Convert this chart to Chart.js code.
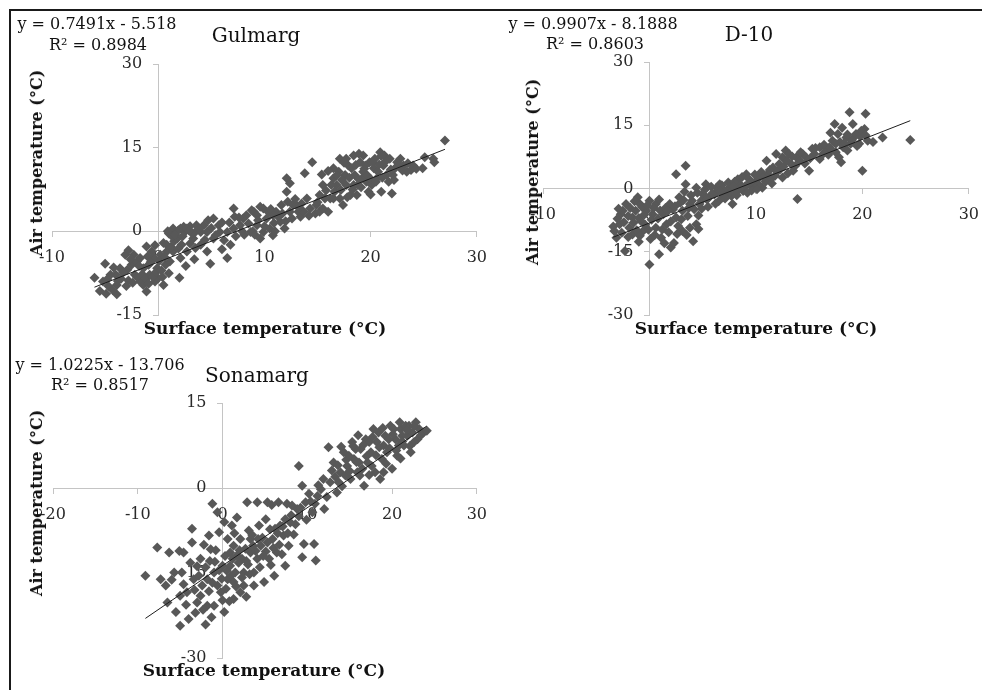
<!DOCTYPE html>
<html>
<head>
<meta charset="utf-8">
<script src="https://cdn.jsdelivr.net/npm/chart.js@4.4.1/dist/chart.umd.min.js"></script>
<style>
  html, body { margin: 0; padding: 0; background: #fff; }
  #page { position: relative; width: 982px; height: 690px; overflow: hidden; font-family: "DejaVu Serif", serif; }
  #frame { position: absolute; left: 9px; top: 9px; width: 1000px; height: 700px;
           border-left: 2px solid #1a1a1a; border-top: 2px solid #1a1a1a; }
  canvas { position: absolute; }
  .lbl { position: absolute; white-space: nowrap; transform: translate(-50%, -50%); color: #111; line-height: 1; }
  .eq { font-size: 16px; }
  .ttl { font-size: 20px; }
  .ax { font-size: 17px; font-weight: bold; }
  .rot { font-size: 16px; transform: translate(-50%, -50%) rotate(-90deg); }
</style>
</head>
<body>
<div id="page"><div id="frame"></div></div>
<script>
const stations = ['Gulmarg', 'D-10', 'Sonamarg'];
const slopes = [0.7491, 0.9907, 1.0225];
const intercepts = [-5.518, -8.1888, -13.706];
const rSquared = ['0.8984', '0.8603', '0.8517'];
const xRanges = [[-10, 30], [-10, 30], [-20, 30]];
const yRanges = [[-15, 30], [-30, 30], [-30, 15]];
const xStep = 10;
const yStep = 15;

// [surface temp, air temp]
const gulmargPoints = [
    [-6.0, -8.3], [-5.5, -10.7], [-4.9, -11.2], [-3.9, -11.3], [-5.0, -5.8], [-4.5, -7.8], [-4.0, -7.8],
    [-3.6, -6.6], [-3.1, -4.2], [-2.9, -6.9], [-2.5, -6.0], [-2.2, -7.8], [-2.0, -5.4], [-1.7, -9.0],
    [-1.4, -9.6], [-1.1, -2.7], [-0.9, -6.0], [-0.8, -7.8], [-0.4, -4.8], [-0.3, -9.0], [-0.1, -6.6],
    [0.2, -4.2], [0.5, -2.1], [0.7, -6.0], [0.8, -3.6], [1.1, -5.4], [2.0, -8.3], [-3.9, -9.6],
    [-2.3, -4.2], [-1.7, -4.8], [-1.4, -6.6], [-0.6, -3.6], [0.0, -8.4], [-1.1, -10.8], [0.5, -9.6],
    [1.4, -3.6], [0.8, -2.4],
    [-5.2, -9.0], [-4.7, -9.8], [-4.3, -10.5], [-4.2, -6.5], [-3.5, -8.5], [-3.3, -7.4], [-2.8, -8.8],
    [-2.6, -5.0], [-2.0, -8.2], [-1.8, -6.2], [-1.5, -7.7], [-1.2, -8.6], [-1.0, -4.5], [-0.7, -5.5],
    [-0.5, -8.2], [-0.2, -7.3], [0.1, -5.3], [0.3, -7.0], [0.6, -4.6], [1.0, -7.5], [1.2, -2.8],
    [1.5, -1.8], [-2.8, -3.4], [-0.3, -2.5],
    [-4.8, -8.6], [-3.8, -8.9], [-3.0, -9.8], [-2.4, -9.2], [-0.9, -9.4], [0.4, -8.2],
    [1.0, -0.4], [1.4, 0.5], [2.1, 0.5], [2.5, -0.1], [1.8, -1.3], [2.2, -2.4], [2.7, -3.6], [2.1, -4.8],
    [3.3, -1.3], [4.0, -0.1], [4.3, 1.1], [4.7, 2.0], [5.2, 2.3], [5.7, 1.1], [4.0, -2.4], [4.6, -3.6],
    [4.9, -5.8], [6.5, -4.8], [6.8, -2.4], [7.1, 4.1], [6.5, -0.1], [7.7, 1.1], [8.3, 2.9], [9.0, 3.5],
    [9.3, 1.1], [9.9, -0.1], [10.2, 2.3], [10.5, 0.5], [10.8, -0.7], [9.6, -1.3], [8.7, -0.1], [11.1, 3.5],
    [11.6, 4.7], [11.9, 0.5], [12.1, 9.5], [12.4, 8.6], [12.1, 7.1], [12.7, 4.7], [13.2, 3.5], [13.5, 5.0],
    [14.0, 5.9], [14.5, 12.4], [13.8, 10.4], [13.4, 2.6],
    [0.9, 0.0], [1.3, -0.9], [1.9, 0.2], [2.4, 0.8], [3.0, 0.9], [3.4, -0.3],
    [2.7, 0.5], [3.2, -0.4], [3.6, 1.1], [4.6, -0.1], [5.2, -1.3], [5.8, -0.1], [7.1, 0.5], [8.0, 2.3],
    [9.3, 2.9], [9.9, 4.1], [10.8, 2.9], [11.5, 1.7], [12.4, 3.5], [13.0, 4.7], [13.7, 3.5], [14.3, 4.1],
    [1.6, -0.6], [2.3, -0.9], [2.9, 0.2], [3.0, -2.2], [3.5, -3.0], [3.8, 0.4], [4.4, -1.5], [5.0, 0.6],
    [5.4, -0.7], [6.0, 1.6], [6.2, -1.6], [6.0, -3.2], [3.4, -5.0], [1.9, -3.1], [2.6, -6.2],
    [7.3, -0.9], [7.6, 2.5], [8.1, -0.6], [8.5, 1.4], [8.9, 0.0], [9.4, 2.0], [9.6, 4.4], [10.0, 0.9],
    [10.4, 3.4], [10.9, 1.5], [11.3, 2.6], [11.7, 3.2], [12.0, 1.8], [12.6, 2.3], [12.9, 5.8], [13.3, 4.2],
    [14.2, 2.8], [12.2, 5.3],
    [6.7, 1.6], [7.2, 2.6], [7.9, 0.0], [8.8, 3.8], [9.1, -0.6], [10.6, 4.0], [11.0, 0.0], [14.8, 3.2],
    [14.9, 4.7], [15.2, 6.5], [15.5, 8.3], [16.0, 3.5], [16.2, 5.9], [16.5, 9.5], [16.6, 7.1], [17.0, 10.7],
    [17.1, 13.0], [17.4, 4.7], [17.7, 8.3], [17.9, 11.8], [18.1, 6.5], [18.4, 13.6], [18.5, 10.1],
    [18.8, 8.3], [19.0, 12.4], [19.3, 10.7], [19.6, 8.9], [19.8, 7.1], [19.9, 12.4], [20.3, 11.3],
    [20.6, 9.5], [20.9, 14.2], [21.0, 7.1], [21.2, 11.8], [21.5, 10.1], [21.8, 13.0], [22.0, 6.8],
    [22.3, 11.3], [22.8, 13.0], [23.1, 11.8], [23.4, 10.7], [24.0, 11.8], [24.9, 11.3], [25.1, 13.3],
    [25.9, 13.0], [26.0, 12.4], [27.0, 16.3],
    [16.5, 5.9], [16.8, 8.3], [17.1, 5.9], [17.6, 10.1], [18.2, 11.3], [18.7, 6.5], [19.2, 9.5],
    [19.5, 11.8], [20.1, 8.3], [20.4, 13.0], [20.7, 10.7], [21.3, 13.6], [21.7, 8.9], [22.1, 10.1],
    [22.6, 11.8], [15.2, 3.5], [15.7, 5.9], [17.7, 13.0], [16.5, 11.3], [18.4, 8.3], [19.3, 13.6],
    [15.0, 5.2], [15.5, 4.1], [15.8, 7.3], [16.3, 8.3], [16.8, 10.0], [17.2, 7.4], [17.3, 9.2], [17.8, 6.1],
    [18.0, 9.6], [18.3, 7.5], [18.6, 11.9], [18.9, 9.3], [19.1, 7.9], [19.4, 11.2], [19.7, 10.0],
    [20.0, 9.4], [20.2, 12.4], [20.5, 8.9], [20.8, 12.0], [21.1, 9.6], [21.4, 12.5], [21.9, 11.1],
    [22.2, 9.2], [22.5, 12.4], [23.0, 10.9], [23.5, 12.2], [23.8, 11.0], [24.3, 11.2], [16.0, 10.8],
    [15.4, 10.2], [17.5, 12.3], [18.9, 13.9], [20.0, 6.6], [21.0, 13.5]
];

const d10Points = [
    [-3.3, -10.1], [-2.8, -8.5], [-2.7, -6.1], [-2.2, -3.7], [-1.9, -9.3], [-1.6, -10.9], [-1.3, -5.3],
    [-1.1, -2.1], [-0.8, -7.7], [-0.6, -10.1], [-2.3, -14.8], [-3.1, -11.7], [-0.3, -5.3], [0.0, -2.9],
    [0.3, -6.1], [0.6, -9.3], [0.0, -18.0], [0.9, -15.6], [1.1, -11.7], [1.6, -8.5], [2.0, -14.0],
    [2.3, -12.9], [2.5, 3.4], [3.4, 5.4], [3.4, 1.0], [2.8, -2.1], [3.1, -5.3], [3.8, -9.3], [4.1, -12.5],
    [4.4, -8.5], [4.7, -3.7], [5.0, -1.3], [5.3, 1.0], [5.6, -2.1], [6.3, 0.2], [6.9, -2.1], [7.5, 0.2],
    [7.8, -3.7], [8.3, 2.2], [8.8, -0.6], [9.1, 3.4], [9.4, 1.0], [10.0, 1.8], [10.6, 0.2], [11.0, 6.6],
    [11.4, 2.2], [11.9, 8.2], [12.5, 2.6], [12.8, 9.0], [13.3, 5.8], [13.9, -2.5], [13.8, 7.4],
    [14.4, 8.2], [15.0, 4.2], [15.3, 9.4], [16.0, 9.8], [16.6, 9.0], [17.2, 11.3], [17.4, 15.3],
    [17.8, 7.4], [18.0, 6.2], [18.5, 12.1], [18.8, 18.1], [18.9, 10.6], [19.1, 15.3], [19.4, 12.9],
    [19.7, 10.6], [20.0, 4.2], [20.2, 14.1], [20.3, 17.7], [20.5, 11.3], [21.0, 11.0], [21.9, 12.1],
    [24.5, 11.5],
    [4.4, 0.2], [5.3, -2.1], [6.6, 1.0], [7.2, -1.3], [8.1, -0.6], [8.5, 1.0], [9.7, 0.2], [10.3, 2.6],
    [11.1, 3.4], [11.6, 5.0], [12.2, 5.8], [12.5, 7.4], [13.1, 8.2], [13.5, 4.2], [14.1, 6.6], [14.7, 7.4],
    [15.5, 8.2], [16.3, 8.2], [16.9, 9.8], [17.5, 10.6], [17.7, 12.9], [18.2, 9.8], [18.6, 9.0],
    [19.2, 12.1], [19.9, 13.7],
    [-2.5, -5.3], [-1.6, -6.9], [-0.9, -3.7], [0.6, -3.7], [1.3, -6.1], [1.9, -3.7], [2.5, -6.9],
    [3.8, -3.7], [3.1, -10.1],
    [-3.4, -9.0], [-3.0, -7.2], [-2.9, -4.8], [-2.6, -10.5], [-2.4, -8.0], [-2.0, -6.5], [-1.8, -4.6],
    [-1.5, -8.1], [-1.2, -9.9], [-1.0, -7.0], [-0.7, -4.4], [-0.5, -6.2], [-0.4, -8.6], [-0.1, -9.8],
    [0.2, -7.4], [0.4, -4.6], [0.8, -7.1], [1.0, -5.2], [1.2, -9.7], [-2.0, -11.5], [-0.9, -11.2],
    [0.5, -11.0],
    [1.5, -4.6], [2.0, -7.8], [2.2, -5.0], [2.7, -8.9], [3.0, -7.3], [3.2, -2.7], [3.6, -6.5], [3.9, -1.6],
    [4.2, -4.9], [4.6, -6.4], [4.9, -2.8], [5.2, -0.3], [5.5, -4.3], [5.8, 0.4], [6.1, -1.4], [6.5, -3.0],
    [6.8, 0.8], [7.0, -0.5], [7.4, 1.4], [7.7, -1.8], [8.0, 1.6], [8.4, -0.3], [8.7, 2.7], [9.0, 0.6],
    [9.3, 2.4], [9.6, -0.5], [9.9, 3.3], [10.2, 1.0], [10.5, 3.9], [10.9, 1.6], [11.3, 4.4], [11.8, 3.0],
    [12.3, 4.6], [12.9, 6.6], [13.4, 7.6], [13.7, 5.4], [14.2, 8.6], [14.6, 5.9], [15.1, 7.2], [15.6, 9.6],
    [16.0, 7.0], [16.4, 10.4], [16.8, 8.0], [17.1, 9.2], [17.5, 8.6], [17.9, 11.0], [18.3, 10.8],
    [18.6, 12.8], [19.0, 11.4], [19.5, 10.1], [19.8, 12.4], [20.3, 12.6], [18.1, 14.4], [17.0, 13.2],
    [-1.4, -3.0], [-0.2, -4.0], [0.9, -2.6], [1.7, -5.4], [2.4, -4.2], [2.9, -3.4], [3.3, -0.8],
    [3.7, -4.6], [4.0, -2.9], [4.5, -1.0], [4.9, -4.8], [5.4, -2.6], [5.9, -1.2], [6.2, -3.6], [6.6, -0.7],
    [7.1, -2.4], [7.6, -0.9], [7.9, 0.5], [8.2, -1.6], [8.6, 0.3], [9.2, -1.0], [9.5, 1.6], [10.1, -0.2],
    [10.7, 2.6], [11.5, 1.2], [12.0, 4.0], [12.6, 5.2], [13.0, 3.6], [1.8, -10.4], [2.6, -10.8],
    [3.5, -11.0], [-1.0, -12.6], [1.4, -13.0], [4.6, -9.6], [0.1, -12.0]
];

const sonamargPoints = [
    [-9.1, -15.5], [-7.7, -10.5], [-7.3, -16.1], [-6.7, -17.2], [-6.5, -20.2], [-6.3, -11.4], [-5.7, -14.9],
    [-5.5, -21.9], [-5.1, -11.1], [-5.0, -24.3], [-4.8, -14.9], [-4.6, -11.4], [-4.2, -18.4], [-4.0, -23.1],
    [-3.6, -7.2], [-3.6, -9.6], [-3.4, -16.1], [-3.0, -20.2], [-2.6, -12.5], [-2.4, -17.2], [-2.0, -24.1],
    [-1.8, -20.8], [-1.6, -8.4], [-1.4, -10.8], [-1.2, -2.8], [-1.0, -14.9], [-0.6, -4.3], [-0.4, -7.8],
    [-0.2, -18.4], [0.0, -13.7], [0.2, -21.9], [0.6, -16.1], [0.9, -11.4], [1.1, -6.6], [1.3, -19.6],
    [1.5, -14.9], [1.7, -5.2], [2.1, -9.0], [2.3, -12.5], [2.5, -17.2], [2.9, -2.5], [3.1, -7.5],
    [3.3, -11.4], [3.7, -14.9], [4.1, -2.5], [4.3, -6.6], [4.5, -10.2], [4.9, -16.6], [5.1, -5.5],
    [5.3, -2.5], [5.5, -12.5], [5.9, -9.0], [6.1, -15.5], [6.4, -11.4], [6.6, -2.5], [6.8, -6.6],
    [7.2, -8.4], [7.4, -13.7], [7.6, -2.8], [7.8, -10.2], [8.0, -6.1], [8.2, -3.1], [8.8, -3.7],
    [9.0, 3.9], [9.4, 0.4], [9.4, -12.2], [9.6, -9.9], [9.8, -2.5], [10.8, -9.9], [11.0, -12.8],
    [10.6, -4.3], [11.2, -1.4], [11.6, -0.2], [12.0, -3.7], [12.5, 7.2], [12.7, 1.0], [13.1, 4.5],
    [13.5, -0.8], [13.9, 2.8], [14.3, 6.3], [14.7, 3.9], [15.1, 1.6], [15.3, 8.1], [15.5, 5.1],
    [15.9, 2.8], [16.3, 6.9], [16.7, 0.4], [16.9, 8.6], [17.1, 4.5], [17.5, 6.3], [17.8, 10.4],
    [18.0, 2.8], [18.2, 8.1], [18.6, 1.6], [18.8, 5.1], [19.2, 9.2], [19.4, 6.3], [19.8, 11.0],
    [20.0, 3.4], [20.4, 8.6], [20.6, 5.7], [21.0, 10.4], [21.4, 7.5], [21.8, 9.2], [22.0, 11.0],
    [22.2, 6.3], [22.8, 11.6], [23.0, 8.6], [23.7, 9.8], [24.1, 10.1],
    [13.7, 1.0], [14.5, 2.2], [14.9, 5.7], [15.7, 6.9], [16.1, 4.5], [16.5, 3.4], [17.3, 8.1],
    [17.6, 3.9], [18.4, 9.8], [19.0, 7.5], [19.6, 8.6], [20.2, 10.4], [20.8, 7.5], [21.2, 9.2],
    [21.6, 11.0], [22.4, 9.8], [23.2, 10.4], [22.6, 8.1],
    [0.9, -13.7], [1.7, -11.9], [2.5, -14.9], [3.3, -9.0], [4.1, -12.5], [1.3, -10.2], [2.1, -18.4],
    [0.6, -9.0], [-0.6, -17.2], [3.7, -17.2], [1.3, -16.6], [-1.0, -20.8], [-2.6, -19.0], [-1.8, -16.1],
    [10.2, -1.0], [10.9, -2.8], [11.3, 0.5], [11.9, 1.6], [12.3, -1.6], [12.9, 3.1], [13.3, 2.0],
    [13.6, 4.0], [14.1, 0.3], [14.6, 5.0], [15.0, 3.0], [15.4, 7.4], [15.8, 4.6], [16.2, 2.2], [16.6, 7.6],
    [17.0, 5.6], [17.3, 2.3], [17.7, 9.0], [18.1, 5.8], [18.5, 7.2], [18.9, 10.6], [19.3, 4.3], [19.7, 7.0],
    [20.1, 9.5], [20.5, 6.6], [20.9, 11.6], [21.2, 8.2], [21.7, 10.3], [22.1, 7.4], [22.6, 10.9],
    [23.4, 9.3], [21.0, 5.2], [19.0, 2.8], [16.0, 9.3], [14.0, 7.3],
    [-3.0, -13.8], [-2.2, -10.0], [-1.5, -12.9], [-1.2, -16.7], [-0.8, -11.0], [-0.4, -14.5], [0.3, -12.0],
    [0.4, -17.8], [0.8, -20.0], [1.0, -15.5], [1.4, -8.0], [1.9, -13.2], [2.3, -15.8], [2.7, -10.7],
    [3.0, -13.5], [3.5, -8.3], [3.9, -11.1], [4.4, -14.0], [4.7, -8.8], [5.1, -11.2], [5.6, -7.3],
    [6.0, -10.6], [6.5, -8.0], [7.0, -11.7], [7.4, -5.5], [8.4, -8.2], [9.0, -5.0], [-4.3, -20.6],
    [-3.2, -22.0], [-2.8, -15.5], [-5.0, -19.0], [-3.8, -13.2], [-6.0, -16.2], [5.8, -3.0], [0.2, -6.0],
    [-2.0, -14.0], [-1.6, -18.2], [-0.9, -13.0], [-0.1, -16.0], [0.5, -14.6], [1.2, -12.5], [1.6, -17.4],
    [2.0, -11.0], [2.8, -12.9], [3.2, -15.2], [3.6, -10.2], [4.2, -9.0], [4.8, -12.0], [5.3, -9.6],
    [5.7, -13.6], [6.2, -7.2], [6.7, -10.0], [7.1, -6.8], [7.7, -8.0], [8.1, -4.8], [8.6, -6.4],
    [9.2, -3.5], [9.9, -5.6], [10.4, -2.4], [-3.3, -18.0], [-2.3, -21.5], [-1.3, -22.8], [-4.6, -17.0],
    [0.0, -19.8], [2.8, -19.2]
];

const stationPoints = [gulmargPoints, d10Points, sonamargPoints];

// where each panel sits in the 982x690 picture
const panels = [
    { left: 0, top: 0, width: 490, height: 345, pad: { left: 52, top: 64, right: 13, bottom: 30 },
      eq: [97, 24], r2: [98, 45], title: [256, 35], yTitle: [37, 163], xTitle: [265, 328] },
    { left: 490, top: 0, width: 492, height: 345, pad: { left: 53, top: 62, right: 13, bottom: 30 },
      eq: [593, 24], r2: [595, 44], title: [749, 34], yTitle: [533, 172], xTitle: [756, 328] },
    { left: 0, top: 340, width: 490, height: 350, pad: { left: 53, top: 63, right: 13, bottom: 32 },
      eq: [100, 365], r2: [100, 385], title: [257, 375], yTitle: [37, 503], xTitle: [264, 670] }
];
const yLabelGap = 16;   // px from the vertical axis to the right edge of its labels
const xLabelGap = 6;    // px the hidden label axis sits below the horizontal axis

const page = document.getElementById('page');
const axisGrey = '#c4c4c4';
const tickFont = { family: 'DejaVu Serif', size: 16 };

function addLabel(text, pos, cls) {
    const div = document.createElement('div');
    div.className = 'lbl ' + cls;
    div.style.left = pos[0] + 'px';
    div.style.top = pos[1] + 'px';
    div.textContent = text;
    page.appendChild(div);
}

function drawPanel(i) {
    const p = panels[i];
    const canvas = document.createElement('canvas');
    canvas.width = p.width;
    canvas.height = p.height;
    canvas.style.left = p.left + 'px';
    canvas.style.top = p.top + 'px';
    page.appendChild(canvas);

    const points = stationPoints[i].map(pt => ({ x: pt[0], y: pt[1] }));
    const xs = stationPoints[i].map(pt => pt[0]);
    const lo = Math.min(...xs);
    const hi = Math.max(...xs);
    const trend = [lo, hi].map(x => ({ x: x, y: slopes[i] * x + intercepts[i] }));

    // label-only scales sit a few pixels off the real axes, so the numbers keep clear of the lines
    const pxPerX = (p.width - p.pad.left - p.pad.right) / (xRanges[i][1] - xRanges[i][0]);
    const pxPerY = (p.height - p.pad.top - p.pad.bottom) / (yRanges[i][1] - yRanges[i][0]);

    const lineAxis = {
        type: 'linear',
        grid: { drawOnChartArea: false, drawTicks: true, tickLength: 5, color: axisGrey },
        border: { color: axisGrey, width: 1 }
    };
    const labelAxis = {
        type: 'linear',
        grid: { display: false },
        border: { display: false }
    };

    new Chart(canvas.getContext('2d'), {
        type: 'scatter',
        data: {
            datasets: [{
                type: 'line',
                data: trend,
                borderColor: '#1e1e1e',
                borderWidth: 1,
                pointRadius: 0,
                fill: false,
                clip: false
            }, {
                data: points,
                pointStyle: 'rectRot',
                pointRadius: 5,
                backgroundColor: '#585858',
                borderWidth: 0,
                clip: false
            }]
        },
        options: {
            responsive: false,
            animation: false,
            layout: { padding: p.pad },
            plugins: { legend: { display: false }, tooltip: { enabled: false } },
            scales: {
                x: Object.assign({}, lineAxis, {
                    min: xRanges[i][0], max: xRanges[i][1], position: { y: 0 },
                    ticks: { display: false, stepSize: xStep }
                }),
                y: Object.assign({}, lineAxis, {
                    min: yRanges[i][0], max: yRanges[i][1], position: { x: 0 },
                    ticks: { display: false, stepSize: yStep }
                }),
                xLabels: Object.assign({}, labelAxis, {
                    axis: 'x', min: xRanges[i][0], max: xRanges[i][1],
                    position: { y: -xLabelGap / pxPerY },
                    ticks: { stepSize: xStep, color: '#2a2a2a', font: tickFont, maxRotation: 0 }
                }),
                yLabels: Object.assign({}, labelAxis, {
                    axis: 'y', min: yRanges[i][0], max: yRanges[i][1],
                    position: { x: -yLabelGap / pxPerX },
                    ticks: { stepSize: yStep, color: '#2a2a2a', font: tickFont }
                })
            }
        }
    });

    addLabel('y = ' + slopes[i] + 'x - ' + Math.abs(intercepts[i]), p.eq, 'eq');
    addLabel('R² = ' + rSquared[i], p.r2, 'eq');
    addLabel(stations[i], p.title, 'ttl');
    addLabel('Air temperature (°C)', p.yTitle, 'ax rot');
    addLabel('Surface temperature (°C)', p.xTitle, 'ax');
}

stations.forEach((s, i) => drawPanel(i));
</script>
</body>
</html>
